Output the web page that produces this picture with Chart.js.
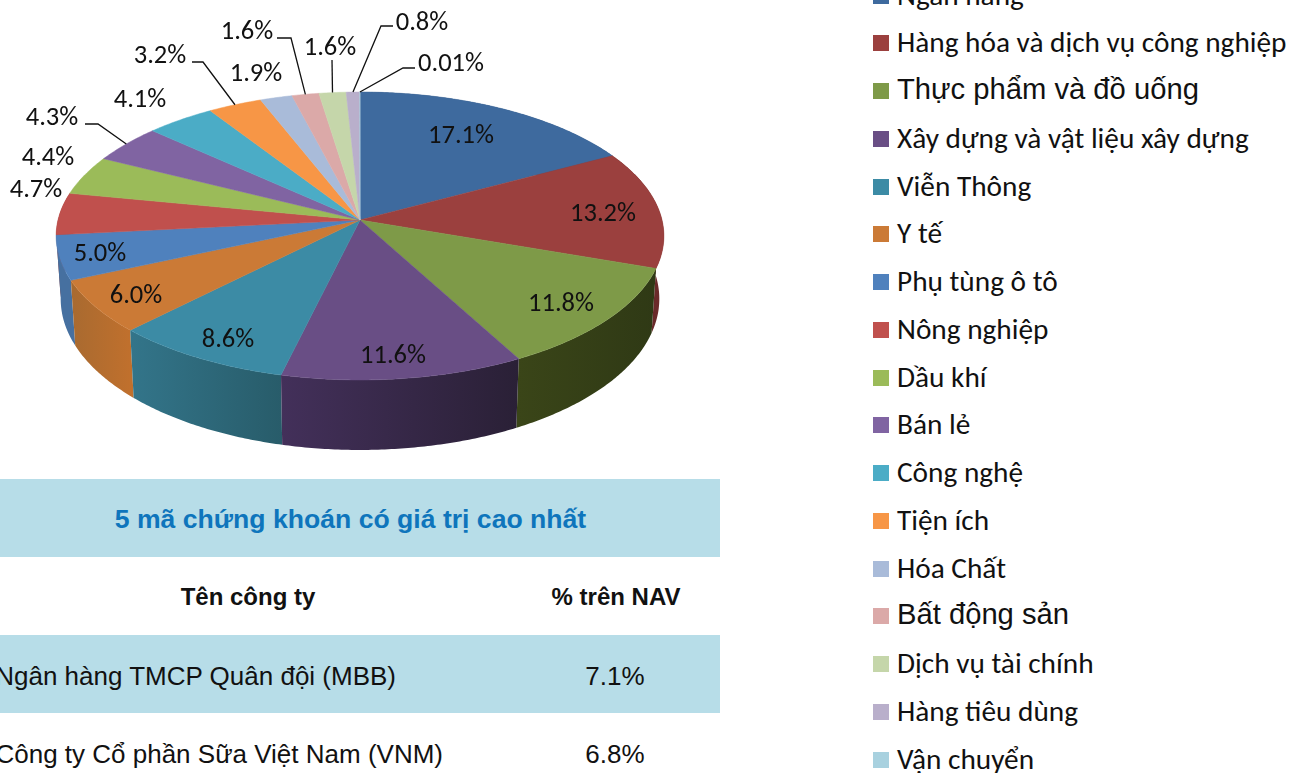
<!DOCTYPE html>
<html>
<head>
<meta charset="utf-8">
<script src="https://cdn.jsdelivr.net/npm/chart.js@4/dist/chart.umd.min.js"></script>
<style>
    html, body { margin: 0; padding: 0; background: #fff; }
    #page { position: relative; width: 1297px; height: 773px; overflow: hidden; }
    #pieBox { position: absolute; left: 0; top: 0; width: 720px; height: 478px; }
    .band { position: absolute; left: 0; width: 720px; height: 78px; background: #b7dde8; }
    .cell { position: absolute; white-space: nowrap; line-height: 30px; color: #111; font: 26px/30px "Liberation Sans", Arial, sans-serif; }
    .swatch { position: absolute; left: 873px; width: 16px; height: 16px; }
    .legendText { position: absolute; left: 897px; white-space: nowrap; color: #111; font: 29.3px/34px Carlito, Lato, sans-serif; }
</style>
</head>
<body>
<div id="page">
    <div id="pieBox"><canvas id="chartSectors" width="720" height="478"></canvas></div>
    <div class="band" style="top:479px"></div>
    <div class="band" style="top:635px"></div>
    <div id="tableText"></div>
    <div id="legendBox"></div>
</div>
<script>
// CHART DATA
var sectors = ["Ngân hàng", "Hàng hóa và dịch vụ công nghiệp", "Thực phẩm và đồ uống", "Xây dựng và vật liệu xây dựng",
    "Viễn Thông", "Y tế", "Phụ tùng ô tô", "Nông nghiệp", "Dầu khí", "Bán lẻ", "Công nghệ", "Tiện ích", "Hóa Chất",
    "Bất động sản", "Dịch vụ tài chính", "Hàng tiêu dùng", "Vận chuyển"];
var weights = [17.1, 13.2, 11.8, 11.6, 8.6, 6.0, 5.0, 4.7, 4.4, 4.3, 4.1, 3.2, 1.9, 1.6, 1.6, 0.8, 0.01];
var weightLabels = ["17.1%", "13.2%", "11.8%", "11.6%", "8.6%", "6.0%", "5.0%", "4.7%", "4.4%", "4.3%", "4.1%", "3.2%",
    "1.9%", "1.6%", "1.6%", "0.8%", "0.01%"];

// TABLE DATA
var tableTitle = "5 mã chứng khoán có giá trị cao nhất";
var tableHeaders = ["Tên công ty", "% trên NAV"];
var companies = ["Ngân hàng TMCP Quân đội (MBB)", "Công ty Cổ phần Sữa Việt Nam (VNM)"];
var companyShares = ["7.1%", "6.8%"];

// COLORS
var topColors = ["#3e6a9e", "#9b403e", "#7e9a48", "#694e85", "#3c8ba5", "#cb7a36", "#4f81bd", "#c0504d", "#9bbb59",
    "#8064a2", "#4bacc6", "#f79646", "#a9bbd9", "#dba9a8", "#c5d6aa", "#b9afcb", "#a8d1df"];
var sideColors = [["#2c4a70", "#2c4a70"], ["#6b2a2a", "#4a1c1e"], ["#3a4518", "#2f3915"], ["#43305a", "#2a2036"],
    ["#33758a", "#285c6a"], ["#a86a30", "#c0702d"], ["#4670a0", "#4670a0"], ["#903b39", "#903b39"]];

// PIE GEOMETRY (CIRCLE SEEN IN PERSPECTIVE)
var centerX = 360, centerY = 220, radiusX = 302, radiusY = 142.2, perspective = 0.111, bottomShrink = 0.985;

// LABEL PLACEMENT
var labelSpots = [[461, 134], [603, 212], [561, 302], [393, 354], [228, 338], [136, 294], [100, 252], [36, 188],
    [48, 156], [52, 116], [140, 98], [160, 54], [256, 72], [247, 30], [330, 46], [422, 21], [451, 62]];
var leaders = [
    { slice: 9, points: [[85, 124], [98, 124]] },
    { slice: 11, points: [[192, 62], [203, 62]] },
    { slice: 13, points: [[277, 38], [291, 38]] },
    { slice: 14, points: [[332, 60]] },
    { slice: 15, points: [[393, 26], [381, 26]] },
    { slice: 16, points: [[415, 68], [403, 68]] }
];
var largeLegendItems = [2, 13];

function project(angle, r) {
    var x = r * Math.cos(angle);
    var y = r * Math.sin(angle);
    var s = 1 / (1 - perspective * y);
    return [centerX + radiusX * x * s, centerY + radiusY * y * s];
}

function arcPoints(start, end) {
    var points = [];
    var steps = Math.max(2, Math.ceil((end - start) / 0.01));
    for (var i = 0; i <= steps; i++) {
        points.push(project(start + (end - start) * i / steps, 1));
    }
    return points;
}

function sideDepth(angle) {
    return 62 + 8 * Math.sin(angle);
}

function drawSide(ctx, arc, index) {
    var colors = sideColors[index];
    if (!colors) return;
    var rim = arcPoints(arc.startAngle, arc.endAngle);
    var steps = rim.length - 1;
    var gradient = ctx.createLinearGradient(rim[0][0], 0, rim[steps][0], 0);
    gradient.addColorStop(0, colors[1]);
    gradient.addColorStop(1, colors[0]);

    ctx.beginPath();
    ctx.moveTo(rim[0][0], rim[0][1]);
    for (var i = 1; i <= steps; i++) ctx.lineTo(rim[i][0], rim[i][1]);
    for (var j = steps; j >= 0; j--) {
        var angle = arc.startAngle + (arc.endAngle - arc.startAngle) * j / steps;
        ctx.lineTo(centerX + (rim[j][0] - centerX) * bottomShrink, rim[j][1] + sideDepth(angle));
    }
    ctx.closePath();
    ctx.fillStyle = gradient;
    ctx.fill();
}

function drawTop(ctx, arc, color) {
    var rim = arcPoints(arc.startAngle, arc.endAngle);
    ctx.beginPath();
    ctx.moveTo(centerX, centerY);
    for (var i = 0; i < rim.length; i++) ctx.lineTo(rim[i][0], rim[i][1]);
    ctx.closePath();
    ctx.fillStyle = color;
    ctx.strokeStyle = color;
    ctx.lineWidth = 0.5;
    ctx.fill();
    ctx.stroke();
}

// CHART.JS WORKS OUT THE SLICE ANGLES, THIS PLUGIN PAINTS THEM TILTED
var tiltedPie = {
    id: "tiltedPie",
    beforeDatasetsDraw: function(chart) {
        var ctx = chart.ctx;
        var arcs = chart.getDatasetMeta(0).data;

        // BACK SLICES FIRST
        var order = arcs.map(function(arc, i) { return i; }).sort(function(a, b) {
            return Math.sin((arcs[a].startAngle + arcs[a].endAngle) / 2) - Math.sin((arcs[b].startAngle + arcs[b].endAngle) / 2);
        });
        order.forEach(function(i) { drawSide(ctx, arcs[i], i); });
        arcs.forEach(function(arc, i) { drawTop(ctx, arc, topColors[i]); });

        // LEADER LINES
        ctx.strokeStyle = "#111";
        ctx.lineWidth = 1.3;
        leaders.forEach(function(leader) {
            var arc = arcs[leader.slice];
            var end = project((arc.startAngle + arc.endAngle) / 2, 1);
            ctx.beginPath();
            ctx.moveTo(leader.points[0][0], leader.points[0][1]);
            for (var i = 1; i < leader.points.length; i++) ctx.lineTo(leader.points[i][0], leader.points[i][1]);
            ctx.lineTo(end[0], end[1]);
            ctx.stroke();
        });

        // VALUE LABELS
        ctx.fillStyle = "#111";
        ctx.font = '26.5px Carlito, Lato, sans-serif';
        ctx.textAlign = "center";
        ctx.textBaseline = "middle";
        weightLabels.forEach(function(label, i) {
            ctx.fillText(label, labelSpots[i][0], labelSpots[i][1] + 2);
        });
        return false;
    }
};

new Chart(document.getElementById("chartSectors").getContext("2d"), {
    type: "pie",
    data: {
        labels: sectors,
        datasets: [{ data: weights, backgroundColor: topColors }]
    },
    options: {
        responsive: false,
        animation: false,
        plugins: { legend: { display: false }, tooltip: { enabled: false } }
    },
    plugins: [tiltedPie]
});

// TABLE TEXT
function addCell(text, style) {
    var cell = document.createElement("div");
    cell.className = "cell";
    cell.textContent = text;
    cell.style.cssText = style;
    document.getElementById("tableText").appendChild(cell);
}

var centered = "width:300px;text-align:center;";
addCell(tableTitle, "left:0;width:701px;text-align:center;top:504px;font-weight:bold;color:#0e75bc;font-size:26.6px;");
addCell(tableHeaders[0], centered + "left:98px;top:582px;font-weight:bold;font-size:24px;");
addCell(tableHeaders[1], centered + "left:466px;top:582px;font-weight:bold;font-size:24px;");
companies.forEach(function(name, i) {
    var top = 661 + i * 78;
    addCell(name, "right:" + (1297 - (i === 0 ? 396 : 443)) + "px;top:" + top + "px;");
    addCell(companyShares[i], centered + "left:465px;top:" + top + "px;");
});

// LEGEND
var legendBox = document.getElementById("legendBox");
sectors.forEach(function(name, i) {
    var middle = -4.5 + i * 47.75;
    var swatch = document.createElement("div");
    swatch.className = "swatch";
    swatch.style.top = (middle - 8) + "px";
    swatch.style.background = topColors[i];
    legendBox.appendChild(swatch);

    var text = document.createElement("div");
    text.className = "legendText";
    text.textContent = name;
    text.style.top = (middle - 18) + "px";
    if (largeLegendItems.indexOf(i) >= 0) {
        text.style.fontFamily = '"Liberation Sans", Arial, sans-serif';
        text.style.fontSize = "29.2px";
        text.style.top = (middle - 19) + "px";
    }
    legendBox.appendChild(text);
});
</script>
</body>
</html>
